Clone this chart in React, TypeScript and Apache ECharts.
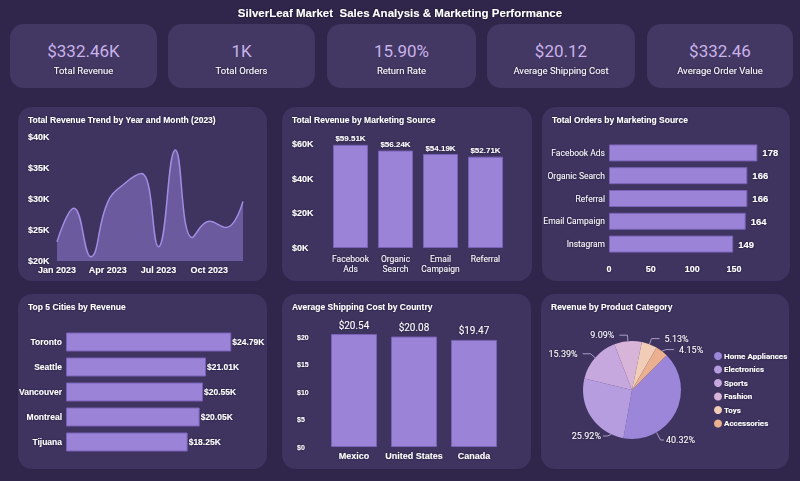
import React, { useEffect, useRef } from "react";
import * as echarts from "echarts";

const kpiValues = ["$332.46K", "1K", "15.90%", "$20.12", "$332.46"];
const kpiLabels = ["Total Revenue", "Total Orders", "Return Rate", "Average Shipping Cost", "Average Order Value"];

const months = ["Jan 2023", "Feb 2023", "Mar 2023", "Apr 2023", "May 2023", "Jun 2023", "Jul 2023", "Aug 2023", "Sep 2023", "Oct 2023", "Nov 2023", "Dec 2023"];
const monthlyRevenue = [23100, 28500, 20700, 29500, 32500, 34100, 22300, 37900, 23800, 26400, 25400, 29600];

const sourceCats = ["Facebook\nAds", "Organic\nSearch", "Email\nCampaign", "Referral"];
const sourceRevenue = [59510, 56240, 54190, 52710];

const orderSources = ["Facebook Ads", "Organic Search", "Referral", "Email Campaign", "Instagram"];
const orderCounts = [178, 166, 166, 164, 149];

const cities = ["Toronto", "Seattle", "Vancouver", "Montreal", "Tijuana"];
const cityRevenue = [24790, 21010, 20550, 20050, 18250];

const countries = ["Mexico", "United States", "Canada"];
const shippingCost = [20.54, 20.08, 19.47];

const categories = ["Home Appliances", "Electronics", "Sports", "Fashion", "Toys", "Accessories"];
const categoryShare = [40.32, 25.92, 15.39, 9.09, 5.13, 4.15];
const categoryColors = ["#9c86d9", "#b69ddf", "#c6a7de", "#d8b4d9", "#f1ccb7", "#ebb08f"];

const BG = "#30254a";
const PANEL = "#3f3360";
const CARD = "#433763";
const BAR = "#9b84d8";
const BAR_BORDER = "#7862b6";
const SANS = "'Liberation Sans', Arial, sans-serif";
const ROBOTO = "Roboto, sans-serif";
const shadow = { textShadowColor: "rgba(10,5,30,0.6)", textShadowBlur: 2 };

const PIE_CX = 632;
const PIE_CY = 390;
const PIE_R = 49;
const edge = (deg: number) => {
  const a = (deg * Math.PI) / 180;
  return [PIE_CX + PIE_R * Math.sin(a), PIE_CY - PIE_R * Math.cos(a)];
};

export default function App() {
  const ref = useRef<HTMLDivElement>(null);
  useEffect(() => {
    if (!ref.current) return;
    const chart = echarts.init(ref.current, null, { renderer: "svg" });

    const cards = [
      [10, 147],
      [168, 147],
      [327, 149],
      [487, 148],
      [647, 146],
    ];
    const graphics: any[] = [];
    graphics.push({
      type: "text",
      style: {
        text: "SilverLeaf Market  Sales Analysis & Marketing Performance",
        x: 400, y: 13, textAlign: "center", textVerticalAlign: "middle",
        font: "bold 11.5px " + SANS, fill: "#ffffff",
        ...shadow,
      },
    });
    cards.forEach(([x, w], i) => {
      graphics.push({ type: "rect", shape: { x, y: 24, width: w, height: 64, r: 14 }, style: { fill: CARD } });
      graphics.push({
        type: "text",
        style: {
          text: kpiValues[i], x: x + w / 2, y: 51, textAlign: "center", textVerticalAlign: "middle",
          font: "17px " + ROBOTO, fill: "#c9b2ea",
        },
      });
      graphics.push({
        type: "text",
        style: {
          text: kpiLabels[i], x: x + w / 2, y: 70, textAlign: "center", textVerticalAlign: "middle",
          font: "9.5px " + ROBOTO, fill: "#ffffff", ...shadow,
        },
      });
    });
    const panels = [
      [18, 107, 249, 174, "Total Revenue Trend by Year and Month (2023)"],
      [282, 107, 250, 174, "Total Revenue by Marketing Source"],
      [542, 107, 248, 174, "Total Orders by Marketing Source"],
      [18, 294, 249, 175, "Top 5 Cities by Revenue"],
      [282, 294, 249, 175, "Average Shipping Cost by Country"],
      [541, 294, 248, 175, "Revenue by Product Category"],
    ] as any[];
    panels.forEach(([x, y, w, h, t]) => {
      graphics.push({ type: "rect", shape: { x, y, width: w, height: h, r: 14 }, style: { fill: PANEL } });
      graphics.push({
        type: "text",
        style: {
          text: t, x: x + 10, y: y + 13, textAlign: "left", textVerticalAlign: "middle",
          font: "bold 8.5px " + SANS, fill: "#ffffff", ...shadow,
        },
      });
    });

    const axisLbl = (extra: any = {}) => ({ color: "#ffffff", fontFamily: SANS, fontSize: 9, fontWeight: "bold", ...shadow, ...extra });

    const option: any = {
      animation: false,
      backgroundColor: BG,
      graphic: graphics,
      grid: [
        { left: 57, top: 137, width: 186, height: 124 },
        { left: 328, top: 144, width: 180, height: 104 },
        { left: 609, top: 141.5, width: 166.7, height: 114 },
        { left: 66, top: 329.5, width: 200, height: 125 },
        { left: 324, top: 326, width: 180, height: 121 },
      ],
      xAxis: [
        {
          gridIndex: 0, type: "category", data: months, boundaryGap: false,
          axisLine: { show: false }, axisTick: { show: false },
          axisLabel: axisLbl({ interval: 2, margin: 4 }),
        },
        {
          gridIndex: 1, type: "category", data: sourceCats,
          axisLine: { show: false }, axisTick: { show: false },
          axisLabel: axisLbl({ interval: 0, fontWeight: "normal", lineHeight: 10, margin: 6, fontFamily: ROBOTO, fontSize: 8.5 }),
        },
        {
          gridIndex: 2, type: "value", min: 0, max: 200, interval: 50,
          splitLine: { show: false }, axisLine: { show: false }, axisTick: { show: false },
          axisLabel: axisLbl({ showMaxLabel: false, margin: 9 }),
        },
        {
          gridIndex: 3, type: "value", min: 0, max: 30000, show: false,
        },
        {
          gridIndex: 4, type: "category", data: countries,
          axisLine: { show: false }, axisTick: { show: false },
          axisLabel: axisLbl({ interval: 0, margin: 4 }),
        },
      ],
      yAxis: [
        {
          gridIndex: 0, type: "value", min: 20000, max: 40000, interval: 5000,
          splitLine: { show: false }, axisLine: { show: false }, axisTick: { show: false },
          axisLabel: axisLbl({ align: "left", margin: 29, formatter: (v: number) => `$${v / 1000}K` }),
        },
        {
          gridIndex: 1, type: "value", min: 0, max: 60000, interval: 20000,
          splitLine: { show: false }, axisLine: { show: false }, axisTick: { show: false },
          axisLabel: axisLbl({ align: "left", margin: 36, formatter: (v: number) => `$${v / 1000}K` }),
        },
        {
          gridIndex: 2, type: "category", data: orderSources, inverse: true,
          axisLine: { show: false }, axisTick: { show: false },
          axisLabel: axisLbl({ interval: 0, fontWeight: "normal", fontSize: 8.5, margin: 4, fontFamily: ROBOTO }),
        },
        {
          gridIndex: 3, type: "category", data: cities, inverse: true,
          axisLine: { show: false }, axisTick: { show: false },
          axisLabel: axisLbl({ interval: 0, fontSize: 8.5, margin: 4 }),
        },
        {
          gridIndex: 4, type: "value", min: 0, max: 22, interval: 5,
          splitLine: { show: false }, axisLine: { show: false }, axisTick: { show: false },
          axisLabel: axisLbl({ showMaxLabel: false, align: "left", margin: 27, fontSize: 7, formatter: (v: number) => `$${v}` }),
        },
      ],
      legend: {
        orient: "vertical", left: 709, top: 347, itemGap: 5.5, itemWidth: 8, itemHeight: 8, icon: "circle",
        data: categories,
        textStyle: { color: "#ffffff", fontFamily: ROBOTO, fontSize: 8, fontWeight: "bold", padding: [0, 0, 0, -3], ...shadow },
      },
      series: [
        {
          type: "line", xAxisIndex: 0, yAxisIndex: 0, data: monthlyRevenue, smooth: 0.45, symbol: "none",
          lineStyle: { color: "#a28ce2", width: 1.5 },
          areaStyle: { color: "#6c5a9f", opacity: 1, origin: "start" },
        },
        {
          type: "bar", xAxisIndex: 1, yAxisIndex: 1, data: sourceRevenue, barWidth: 35,
          itemStyle: { color: BAR, borderColor: BAR_BORDER, borderWidth: 1 },
          label: {
            show: true, position: "top", distance: 2, color: "#ffffff", fontFamily: SANS, fontSize: 8, fontWeight: "bold", ...shadow,
            formatter: (p: any) => `$${(p.value / 1000).toFixed(2)}K`,
          },
        },
        {
          type: "bar", xAxisIndex: 2, yAxisIndex: 2, data: orderCounts, barWidth: 17,
          itemStyle: { color: BAR, borderColor: BAR_BORDER, borderWidth: 1 },
          label: { show: true, position: "right", distance: 5, color: "#ffffff", fontFamily: SANS, fontSize: 9.5, fontWeight: "bold", ...shadow },
        },
        {
          type: "bar", xAxisIndex: 3, yAxisIndex: 3, data: cityRevenue, barWidth: 19,
          itemStyle: { color: BAR, borderColor: BAR_BORDER, borderWidth: 1 },
          label: {
            show: true, position: "right", distance: 1, color: "#ffffff", fontFamily: SANS, fontSize: 8.5, fontWeight: "bold", ...shadow,
            formatter: (p: any) => `$${(p.value / 1000).toFixed(2)}K`,
          },
        },
        {
          type: "bar", xAxisIndex: 4, yAxisIndex: 4, data: shippingCost, barWidth: 46,
          itemStyle: { color: BAR, borderColor: BAR_BORDER, borderWidth: 1 },
          label: {
            show: true, position: "top", distance: 4, color: "#ffffff", fontFamily: ROBOTO, fontSize: 10, ...shadow,
            formatter: (p: any) => `$${p.value.toFixed(2)}`,
          },
        },
        {
          type: "pie", center: [PIE_CX, PIE_CY], radius: PIE_R, startAngle: 45, clockwise: true,
          data: categories.map((n, i) => ({ name: n, value: categoryShare[i], itemStyle: { color: categoryColors[i] } })),
          label: {
            show: true, color: "#ffffff", fontFamily: ROBOTO, fontSize: 9, ...shadow,
            formatter: (p: any) => `${p.value.toFixed(2)}%`,
          },
          labelLine: { show: true, length: 6, length2: 8, lineStyle: { color: "#a99cc4", width: 1 } },
          labelLayout: (p: any) => {
            if (p.dataIndex === 0) {
              const e = edge(150);
              return {
                x: 666, y: 440, align: "left", verticalAlign: "middle",
                labelLinePoints: [e, [e[0] + 4, 440], [664, 440]],
              };
            }
            if (p.dataIndex === 1) {
              const e = edge(205);
              return {
                x: 601, y: 436, align: "right", verticalAlign: "middle",
                labelLinePoints: [e, [e[0] - 4, 436], [603, 436]],
              };
            }
            return {};
          },
        },
      ],
    };
    chart.setOption(option);
    return () => chart.dispose();
  }, []);
  return <div ref={ref} style={{ position: "fixed", left: 0, top: 0, width: 800, height: 481 }} />;
}
